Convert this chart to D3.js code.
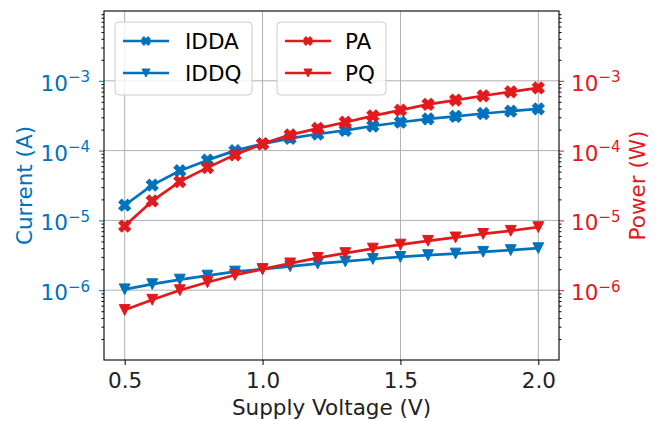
<!DOCTYPE html>
<html>
<head>
<style>
html, body { margin: 0; padding: 0; background: #fff; }
svg { display: block; font-family: "DejaVu Sans", sans-serif; }
</style>
</head>
<body>
<svg width="660" height="421"></svg>
<script src="https://cdn.jsdelivr.net/npm/d3@7"></script>
<script>
// values
const voltage = [0.5, 0.6, 0.7, 0.8, 0.9, 1.0, 1.1, 1.2, 1.3, 1.4, 1.5, 1.6, 1.7, 1.8, 1.9, 2.0];
const idda = [1.65e-5, 3.2e-5, 5.15e-5, 7.3e-5, 1.0e-4, 1.25e-4, 1.5e-4, 1.73e-4, 1.95e-4, 2.25e-4, 2.55e-4, 2.85e-4, 3.1e-4, 3.4e-4, 3.67e-4, 3.96e-4];
const iddq = [1.03e-6, 1.22e-6, 1.42e-6, 1.62e-6, 1.85e-6, 2.0e-6, 2.2e-6, 2.4e-6, 2.58e-6, 2.8e-6, 3.0e-6, 3.18e-6, 3.35e-6, 3.55e-6, 3.75e-6, 4.0e-6];
const pa = [8.3e-6, 1.9e-5, 3.6e-5, 5.7e-5, 8.7e-5, 1.25e-4, 1.68e-4, 2.08e-4, 2.55e-4, 3.15e-4, 3.8e-4, 4.6e-4, 5.3e-4, 6.1e-4, 6.95e-4, 7.9e-4];
const pq = [5.2e-7, 7.3e-7, 1.0e-6, 1.3e-6, 1.65e-6, 2.0e-6, 2.42e-6, 2.9e-6, 3.4e-6, 3.95e-6, 4.5e-6, 5.1e-6, 5.7e-6, 6.4e-6, 7.1e-6, 8.0e-6];
const xTicks = [0.5, 1.0, 1.5, 2.0];
const yTicks = [1e-6, 1e-5, 1e-4, 1e-3];
const yExps = ["\u22126", "\u22125", "\u22124", "\u22123"];

const blue = "#0072bd", red = "#e3191c";
const margin = {top: 11, right: 101, bottom: 61, left: 104};
const width = 660, height = 421;
const fs = 21.5;

const svg = d3.select("svg");

const x = d3.scaleLinear().domain([0.425, 2.075]).range([margin.left, width - margin.right]);
const yL = d3.scaleLog().domain([1e-7, 1e-2]).range([height - margin.bottom, margin.top]);
const yR = d3.scaleLog().domain([1e-7, 1e-2]).range([height - margin.bottom, margin.top]);

let minors = [];
for (let e = -7; e < -2; e++) for (let m = 2; m <= 9; m++) minors.push(m * Math.pow(10, e));

// grid
const grid = svg.append("g").attr("stroke", "#b0b0b0").attr("stroke-width", 1);
grid.selectAll(".gx").data(xTicks).enter().append("line")
    .attr("x1", d => x(d)).attr("x2", d => x(d))
    .attr("y1", margin.top).attr("y2", height - margin.bottom);
grid.selectAll(".gy").data(yTicks).enter().append("line")
    .attr("x1", margin.left).attr("x2", width - margin.right)
    .attr("y1", d => yL(d)).attr("y2", d => yL(d));

// axes
function styleAxis(g, col) {
    g.select(".domain").remove();
    g.selectAll(".tick line").attr("stroke", col);
}
const xAxis = svg.append("g")
    .attr("transform", "translate(0," + (height - margin.bottom) + ")")
    .call(d3.axisBottom(x).tickValues(xTicks).tickFormat(d3.format(".1f")).tickSize(5).tickPadding(8));
styleAxis(xAxis, "#000");
xAxis.selectAll("text").attr("font-size", fs).attr("font-family", "DejaVu Sans").attr("fill", "#222");

function logLabels(g, col) {
    g.selectAll(".tick text").text(null)
        .attr("font-size", fs).attr("font-family", "DejaVu Sans").attr("fill", col)
        .attr("dy", 9.5)
        .each(function (d, i) {
            const t = d3.select(this);
            t.append("tspan").text("10");
            t.append("tspan").attr("font-size", 15).attr("dy", -8.5).text(yExps[i]);
        });
}

const yLMinor = svg.append("g").attr("transform", "translate(" + margin.left + ",0)")
    .call(d3.axisLeft(yL).tickValues(minors).tickFormat("").tickSize(2.5));
styleAxis(yLMinor, "#000");
const yLAxis = svg.append("g").attr("transform", "translate(" + margin.left + ",0)")
    .call(d3.axisLeft(yL).tickValues(yTicks).tickSize(5).tickPadding(9));
styleAxis(yLAxis, blue);
logLabels(yLAxis, blue);

const yRMinor = svg.append("g").attr("transform", "translate(" + (width - margin.right) + ",0)")
    .call(d3.axisRight(yR).tickValues(minors).tickFormat("").tickSize(2.5));
styleAxis(yRMinor, "#000");
const yRAxis = svg.append("g").attr("transform", "translate(" + (width - margin.right) + ",0)")
    .call(d3.axisRight(yR).tickValues(yTicks).tickSize(5).tickPadding(7));
styleAxis(yRAxis, red);
logLabels(yRAxis, red);

// frame
svg.append("rect")
    .attr("x", margin.left).attr("y", margin.top)
    .attr("width", width - margin.left - margin.right)
    .attr("height", height - margin.top - margin.bottom)
    .attr("fill", "none").attr("stroke", "#000").attr("stroke-width", 1.1);

// marker paths
function xMarker(u) {
    const pts = [[-1,-3],[1,-3],[1,-1],[3,-1],[3,1],[1,1],[1,3],[-1,3],[-1,1],[-3,1],[-3,-1],[-1,-1]];
    return "M" + pts.map(p => [p[0] * u, p[1] * u].join(",")).join("L") + "Z";
}
function vMarker(h) {
    return "M" + (-h) + "," + (-h) + "L" + h + "," + (-h) + "L0," + h + "Z";
}

const series = [
    {name: "IDDA", vals: idda, y: yL, col: blue, mk: "x"},
    {name: "IDDQ", vals: iddq, y: yL, col: blue, mk: "v"},
    {name: "PA", vals: pa, y: yR, col: red, mk: "x"},
    {name: "PQ", vals: pq, y: yR, col: red, mk: "v"}
];

series.forEach(s => {
    const line = d3.line().x((d, i) => x(voltage[i])).y(d => s.y(d));
    svg.append("path").attr("d", line(s.vals))
        .attr("fill", "none").attr("stroke", s.col).attr("stroke-width", 2.7)
        .attr("stroke-linejoin", "round");
    svg.selectAll(null).data(s.vals).enter().append("path")
        .attr("d", s.mk === "x" ? xMarker(2.1) : vMarker(5.4))
        .attr("transform", (d, i) => "translate(" + x(voltage[i]) + "," + s.y(d) + ")" + (s.mk === "x" ? " rotate(45)" : ""))
        .attr("fill", s.col).attr("stroke", s.col).attr("stroke-width", 1);
});

// legends
function legend(items, bx, bw, textX) {
    const g = svg.append("g");
    g.append("rect").attr("x", bx).attr("y", 22).attr("width", bw).attr("height", 73)
        .attr("rx", 4).attr("fill", "#fff").attr("fill-opacity", 0.8)
        .attr("stroke", "#cccccc").attr("stroke-width", 1);
    items.forEach((s, i) => {
        const cy = 41 + i * 32;
        g.append("line").attr("x1", bx + 8).attr("x2", bx + 54).attr("y1", cy).attr("y2", cy)
            .attr("stroke", s.col).attr("stroke-width", 2.7);
        g.append("path").attr("d", s.mk === "x" ? xMarker(1.5) : vMarker(4))
            .attr("transform", "translate(" + (bx + 31) + "," + cy + ")" + (s.mk === "x" ? " rotate(45)" : ""))
            .attr("fill", s.col).attr("stroke", s.col).attr("stroke-width", 1);
        g.append("text").attr("x", textX).attr("y", cy + 8)
            .attr("font-size", fs).attr("fill", "#000").text(s.name);
    });
}
legend(series.slice(0, 2), 115, 137, 185);
legend(series.slice(2), 277, 109, 345);

// axis labels
svg.append("text").attr("x", (margin.left + width - margin.right) / 2).attr("y", 415)
    .attr("text-anchor", "middle").attr("font-size", fs).attr("fill", "#222")
    .text("Supply Voltage (V)");
svg.append("text").attr("transform", "translate(32," + ((margin.top + height - margin.bottom) / 2) + ") rotate(-90)")
    .attr("text-anchor", "middle").attr("font-size", fs).attr("fill", blue)
    .text("Current (A)");
svg.append("text").attr("transform", "translate(645," + ((margin.top + height - margin.bottom) / 2) + ") rotate(-90)")
    .attr("text-anchor", "middle").attr("font-size", fs).attr("fill", red)
    .text("Power (W)");
</script>
</body>
</html>
